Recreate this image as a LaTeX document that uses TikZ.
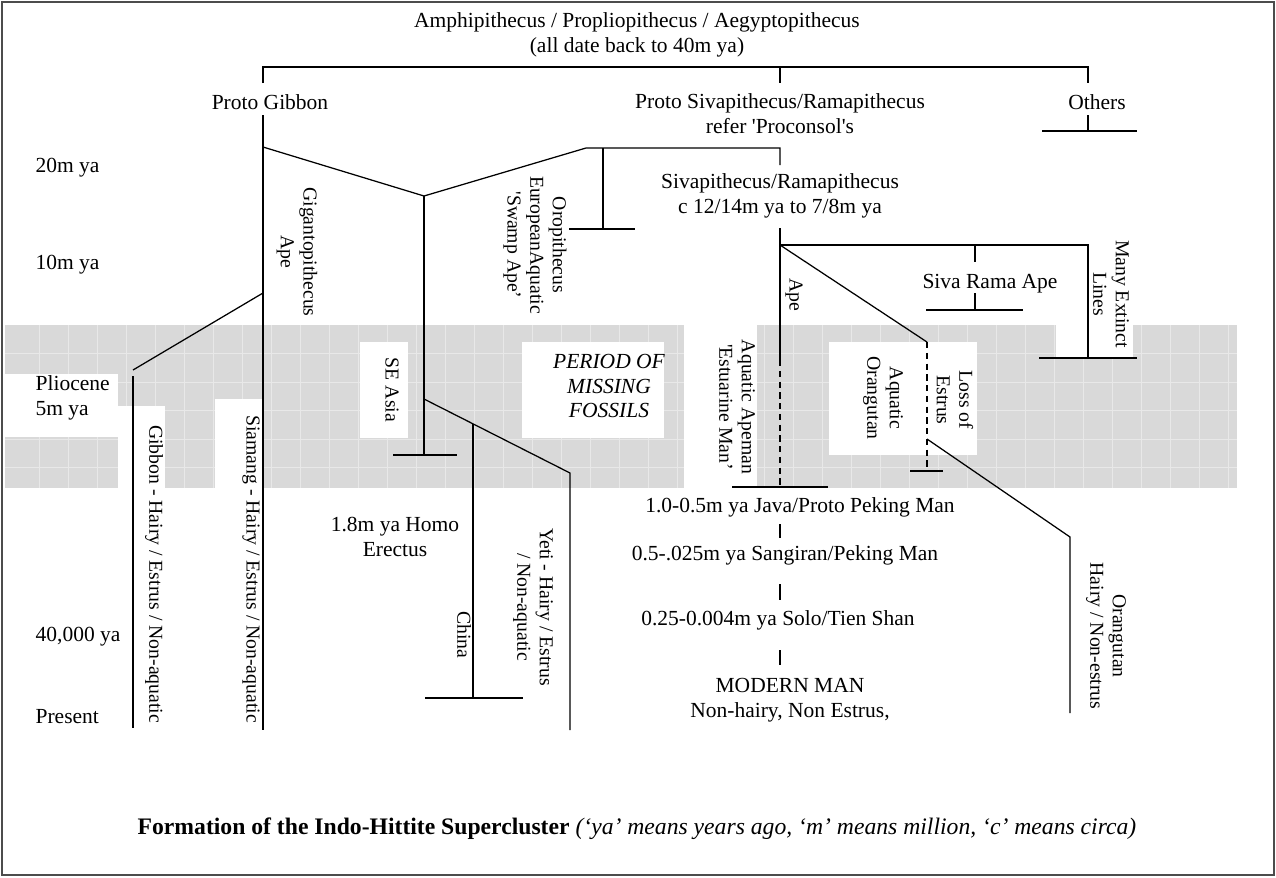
\documentclass[tikz,border=0pt]{standalone}
\usepackage{fontspec}
\newfontfamily\chartfont{Liberation Serif}

\begin{document}
\begin{tikzpicture}[
    x = 0.558pt, y = -0.558pt,
    line width = 0.7pt,
    font = \fontsize{12}{13.8}\chartfont,
    lbl/.style = {inner sep = 0pt, align = center},
    era/.style = {inner sep = 0pt, anchor = west, align = left},
    vlbl/.style = {inner sep = 0pt, align = center, rotate = -90,
      font = \fontsize{11}{12.6}\chartfont},
    lost/.style = {dashed, dash pattern = on 3.5pt off 2.5pt},
    band/.style = {fill = black!15},
    gridline/.style = {draw = black!9, line width = 0.4pt},
    patch/.style = {fill = white}
    ]

    \useasboundingbox (0, 0) rectangle (1276, 877);
    \draw [black!70, line width = 1pt] (2, 2) rectangle (1274, 875);

    \fill [band] (5, 325) rectangle (1237, 488);
    \foreach \gx in {39, 68, ..., 1236}
      \draw [gridline] (\gx, 325) -- (\gx, 488);
    \foreach \gy in {353, 382, 410, 439, 467}
      \draw [gridline] (5, \gy) -- (1237, \gy);

    \fill [patch] (5, 374) rectangle (118, 437);
    \fill [patch] (118, 406) rectangle (165, 488);
    \fill [patch] (215, 399) rectangle (263, 488);
    \fill [patch] (360, 342) rectangle (408, 438);
    \fill [patch] (522, 342) rectangle (664, 438);
    \fill [patch] (684, 325) rectangle (757, 488);
    \fill [patch] (829, 342) rectangle (977, 455);
    \fill [patch] (1056, 325) rectangle (1133, 357);

    \coordinate (topL) at (263, 67);
    \coordinate (topM) at (780, 67);
    \coordinate (topR) at (1088, 67);
    \coordinate (pgT) at (263, 83);
    \coordinate (psT) at (780, 83);
    \coordinate (otT) at (1088, 83);
    \coordinate (otA) at (1088, 115);
    \coordinate (otZ) at (1088, 131);

    \coordinate (gA) at (263, 115);
    \coordinate (gB) at (263, 147);
    \coordinate (gC) at (263, 293);
    \coordinate (gZ) at (263, 730);
    \coordinate (gbA) at (133, 370);
    \coordinate (gbB) at (133, 376);
    \coordinate (gbZ) at (133, 728);

    \coordinate (seA) at (424, 196);
    \coordinate (seB) at (424, 399);
    \coordinate (seZ) at (424, 455);
    \coordinate (orA) at (586, 148);
    \coordinate (orB) at (603, 148);
    \coordinate (orZ) at (603, 229);
    \coordinate (ytA) at (570, 473);
    \coordinate (ytZ) at (570, 730);
    \coordinate (cnA) at (473, 424);
    \coordinate (cnZ) at (473, 698);

    \coordinate (svA) at (780, 148);
    \coordinate (svB) at (780, 165);
    \coordinate (svC) at (780, 228);
    \coordinate (svD) at (780, 245);
    \coordinate (svE) at (780, 360);
    \coordinate (svZ) at (780, 487);
    \coordinate (exA) at (1088, 245);
    \coordinate (exZ) at (1088, 358);
    \coordinate (srA) at (975, 245);
    \coordinate (srB) at (975, 262);
    \coordinate (srC) at (975, 293);
    \coordinate (srZ) at (975, 310);
    \coordinate (ogA) at (927, 342);
    \coordinate (ogB) at (927, 439);
    \coordinate (ogZ) at (927, 471);
    \coordinate (ogC) at (1070, 537);
    \coordinate (ogD) at (1070, 713);

    \coordinate (mA) at (780, 524);
    \coordinate (mB) at (780, 538);
    \coordinate (mC) at (780, 584);
    \coordinate (mD) at (780, 600);
    \coordinate (mE) at (780, 650);
    \coordinate (mF) at (780, 665);

    \draw (pgT) -- (topL) -- (topR) -- (otT);
    \draw (topM) -- (psT);
    \draw (otA) -- (otZ);
    \draw (otZ) +(-46, 0) -- +(49, 0);

    \draw (gA) -- (gZ);
    \draw (gC) -- (gbA);
    \draw (gbB) -- (gbZ);

    \draw (gB) -- (seA) -- (orA) -- (svA) -- (svB);
    \draw (orB) -- (orZ);
    \draw (orZ) +(-34, 0) -- +(32, 0);
    \draw (seA) -- (seZ);
    \draw (seZ) +(-31, 0) -- +(33, 0);
    \draw (seB) -- (ytA) -- (ytZ);
    \draw (cnA) -- (cnZ);
    \draw (cnZ) +(-48, 0) -- +(50, 0);

    \draw (svC) -- (svE);
    \draw [lost] (svE) -- (svZ);
    \draw (svZ) +(-48, 0) -- +(48, 0);
    \draw (svD) -- (exA) -- (exZ);
    \draw (exZ) +(-49, 0) -- +(49, 0);
    \draw (srA) -- (srB);
    \draw (srC) -- (srZ);
    \draw (srZ) +(-49, 0) -- +(48, 0);
    \draw (svD) -- (ogA);
    \draw [lost] (ogA) -- (ogZ);
    \draw (ogZ) +(-17, 0) -- +(16, 0);
    \draw (ogB) -- (ogC) -- (ogD);

    \draw (mA) -- (mB);
    \draw (mC) -- (mD);
    \draw (mE) -- (mF);

    \node at (637, 35) [lbl, name = root]
    {Amphipithecus / Propliopithecus / Aegyptopithecus\\(all date back to 40m ya)};
    \node at (270, 102) [lbl, name = pgibbon] {Proto Gibbon};
    \node at (780, 114) [lbl, name = psiva]
    {Proto Sivapithecus/Ramapithecus\\refer 'Proconsol's};
    \node at (1097, 102) [lbl, name = others] {Others};
    \node at (780, 196) [lbl, name = siva]
    {Sivapithecus/Ramapithecus\\c 12/14m ya to 7/8m ya};
    \node at (990, 284) [lbl, name = sivarama] {Siva Rama Ape};
    \node at (609, 386) [lbl, font = \fontsize{12}{13.8}\chartfont\itshape,
      name = missing] {PERIOD OF\\MISSING\\FOSSILS};
    \node at (395, 537) [lbl, name = erectus] {1.8m ya Homo\\Erectus};
    \node at (800, 507) [lbl, name = java] {1.0-0.5m ya Java/Proto Peking Man};
    \node at (785, 555) [lbl, name = sangiran] {0.5-.025m ya Sangiran/Peking Man};
    \node at (778, 620) [lbl, name = solo] {0.25-0.004m ya Solo/Tien Shan};
    \node at (790, 700) [lbl, name = modern] {MODERN MAN\\Non-hairy, Non Estrus,};

    \node at (35, 168) [era, name = e20] {20m ya};
    \node at (35, 265) [era, name = e10] {10m ya};
    \node at (35, 398) [era, name = e5] {Pliocene\\5m ya};
    \node at (35, 637) [era, name = e40k] {40,000 ya};
    \node at (35, 717) [era, name = enow] {Present};

    \node at (297, 252) [vlbl, name = giga] {Gigantopithecus\\Ape};
    \node at (535, 245) [vlbl, name = oro]
    {Oropithecus\\EuropeanAquatic\\'Swamp Ape’};
    \node at (392, 390) [vlbl, name = sea] {SE Asia};
    \node at (794, 295) [vlbl, name = ape] {Ape};
    \node at (1111, 294) [vlbl, name = extinct] {Many Extinct\\Lines};
    \node at (737, 407) [vlbl, name = apeman] {Aquatic Apeman\\'Estuarine Man’};
    \node at (883, 398) [vlbl, name = aqorang] {Aquatic\\Orangutan};
    \node at (955, 400) [vlbl, name = estrus] {Loss of\\Estrus};
    \node at (464, 635) [vlbl, name = china] {China};
    \node at (533, 607) [vlbl, name = yeti] {Yeti - Hairy / Estrus\\/ Non-aquatic};
    \node at (154, 574) [vlbl, name = gibbon] {Gibbon - Hairy / Estrus / Non-aquatic};
    \node at (251, 569) [vlbl, name = siamang] {Siamang - Hairy / Estrus / Non-aquatic};
    \node at (1106, 636) [vlbl, name = orang] {Orangutan\\Hairy / Non-estrus};

    \node at (637, 829) [lbl, font = \fontsize{13.2}{15}\chartfont, name = caption]
    {\textbf{Formation of the Indo-Hittite Supercluster}
      \textit{(‘ya’ means years ago, ‘m’ means million, ‘c’ means circa)}};
  \end{tikzpicture}
\end{document}
